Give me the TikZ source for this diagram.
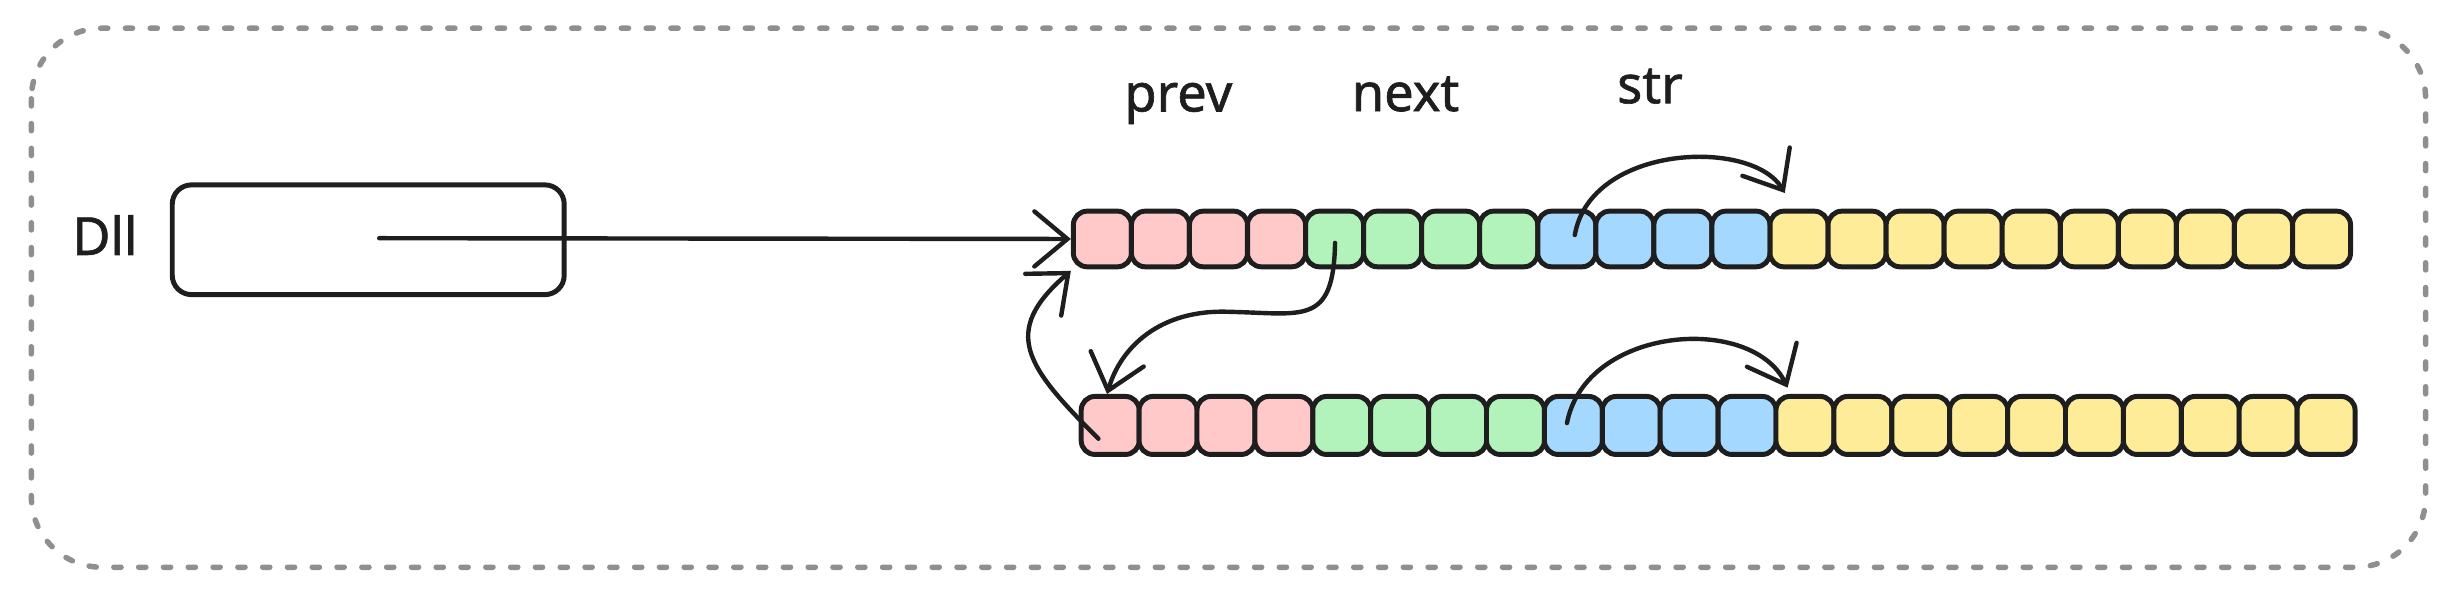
\documentclass[tikz,border=0pt]{standalone}
\usepackage{fontspec}
\setmainfont{Noto Sans}
\usetikzlibrary{arrows.meta,calc}
\definecolor{ink}{HTML}{1E1E1E}
\definecolor{frame}{HTML}{8F8F8F}
\definecolor{cpink}{HTML}{FFC9C9}
\definecolor{cgreen}{HTML}{B2F2BB}
\definecolor{cblue}{HTML}{A5D8FF}
\definecolor{cyellow}{HTML}{FFEC99}
\tikzset{
  cell/.style={draw=ink, line width=0.9pt, rounded corners=2.5pt, minimum width=0.37cm, minimum height=0.355cm, inner sep=0pt},
  holder/.style={draw=ink, line width=0.9pt, rounded corners=3.5pt, minimum width=2.5cm, minimum height=0.7cm, inner sep=0pt},
  lbl/.style={text=ink, font=\fontsize{9.5}{11}\selectfont\addfontfeature{FakeBold=1.2}, inner sep=1pt},
  arr/.style={draw=ink, line width=0.8pt, line cap=round, -{Straight Barb[length=6pt,width=10pt,line cap=round]}},
  outer/.style={draw=frame, line width=1pt, line cap=round, dash pattern=on 1.3pt off 3.2pt, rounded corners=0.45cm}
}
\begin{document}
\begin{tikzpicture}[x=0.01cm,y=-0.01cm]
\useasboundingbox (0,0) rectangle (1568,387);
\draw[outer] (20,18) rectangle (1548,362);
% holder
\node[holder] (dll) at (235,153) {};
\node[lbl, anchor=east] (dlltext) at (92,150) {Dll};
\coordinate (dllptr) at (242,152);
% rows
\foreach \i in {1,...,22}{
  \ifnum\i<5 \def\cc{cpink}\else\ifnum\i<9 \def\cc{cgreen}\else\ifnum\i<13 \def\cc{cblue}\else\def\cc{cyellow}\fi\fi\fi
  \node[cell, fill=\cc] (r1c\i) at ({685+18.5+(\i-1)*37.05},152.5) {};
  \node[cell, fill=\cc, minimum height=0.37cm] (r2c\i) at ({690+18.5+(\i-1)*36.95},271.5) {};
}
% labels
\node[lbl] (lprev) at (752,66) {prev};
\node[lbl] (lnext) at (897,60) {next};
\node[lbl] (lstr) at (1053,55) {str};
% pointers
\draw[arr] (dllptr) -- (r1c1.west);
\coordinate (s1) at (1005,150);
\coordinate (t1) at ($(r1c13.north west)+(11,-10)$);
\draw[arr] (s1) .. controls (1015,92) and (1118,88) .. (t1);
\coordinate (s2) at (1000,270);
\coordinate (t2) at ($(r2c13.north west)+(9,-4)$);
\draw[arr] (s2) .. controls (1012,208) and (1118,200) .. (t2);
\coordinate (n1) at (852,155);
\coordinate (n2) at ($(r2c1.north)+(-2,0)$);
\draw[arr] (n1) .. controls (851,208) and (832,200) .. (785,199) .. controls (740,197) and (715,222) .. (n2);
\coordinate (p1) at (701,280);
\coordinate (p2) at ($(r1c1.south west)+(0,1)$);
\draw[arr] (p1) .. controls (655,234) and (638,212) .. (p2);
\end{tikzpicture}
\end{document}
